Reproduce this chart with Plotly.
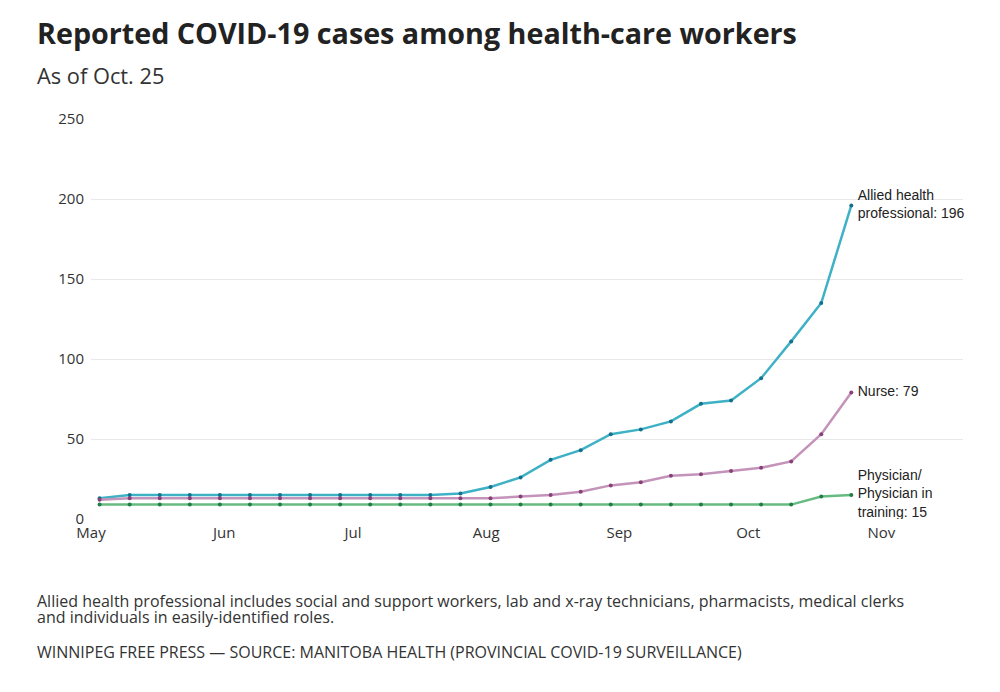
import plotly.graph_objects as go
import pandas as pd

dates = pd.date_range("2020-05-03", "2020-10-25", freq="7D")
allied = [13, 15, 15, 15, 15, 15, 15, 15, 15, 15, 15, 15, 16, 20, 26, 37, 43, 53, 56, 61, 72, 74, 88, 111, 135, 196]
nurse = [12, 13, 13, 13, 13, 13, 13, 13, 13, 13, 13, 13, 13, 13, 14, 15, 17, 21, 23, 27, 28, 30, 32, 36, 53, 79]
physician = [9, 9, 9, 9, 9, 9, 9, 9, 9, 9, 9, 9, 9, 9, 9, 9, 9, 9, 9, 9, 9, 9, 9, 9, 14, 15]
month_ticks = ["2020-05-01", "2020-06-01", "2020-07-01", "2020-08-01", "2020-09-01", "2020-10-01", "2020-11-01"]
month_labels = ["May", "Jun", "Jul", "Aug", "Sep", "Oct", "Nov"]

series = [
    ("Allied health<br>professional: 196", allied, "#3fb1c5", "#15708e", False),
    ("Nurse: 79", nurse, "#c393ba", "#884078", False),
    ("Physician/<br>Physician in<br>training: 15", physician, "#66bb80", "#1f8047", True),
]

label_x = dates[-1] + pd.Timedelta(hours=36)

fig = go.Figure()
for label, vals, lc, mc, clip in series:
    fig.add_trace(go.Scatter(
        x=dates, y=vals, mode="lines+markers",
        line=dict(color=lc, width=2.5),
        marker=dict(color=mc, size=4),
        hoverinfo="skip", showlegend=False,
    ))
    fig.add_trace(go.Scatter(
        x=[label_x], y=[vals[-1]], mode="text", text=[label],
        textposition="middle right", cliponaxis=clip,
        textfont=dict(family="Liberation Sans, Arial", size=14, color="#222"),
        hoverinfo="skip", showlegend=False,
    ))

fig.update_layout(
    width=992, height=684,
    margin=dict(l=83, r=37, t=111, b=173),
    paper_bgcolor="white", plot_bgcolor="white",
    font=dict(family="Open Sans", color="#333"),
    xaxis=dict(
        range=["2020-05-01", "2020-11-20"], type="date",
        tickvals=month_ticks, ticktext=month_labels,
        showgrid=False, zeroline=False, showline=False, ticks="",
        tickfont=dict(family="Open Sans", size=15, color="#333"),
        ticklabelstandoff=3,
    ),
    yaxis=dict(
        range=[0, 250], tickvals=[0, 50, 100, 150, 200, 250],
        showgrid=True, gridcolor="#e8e8e8", gridwidth=1, zeroline=False,
        tickfont=dict(family="Open Sans", size=15, color="#333"),
        ticklabelstandoff=6,
    ),
    annotations=[
        dict(text="<b>Reported COVID-19 cases among health-care workers</b>",
             xref="paper", yref="paper", x=-0.064, y=1.0, xanchor="left", yanchor="top",
             yshift=108, showarrow=False,
             font=dict(family="Open Sans", size=28.7, color="#222")),
        dict(text="As of Oct. 25", xref="paper", yref="paper", x=-0.064, y=1.0,
             xanchor="left", yanchor="top", yshift=60, showarrow=False,
             font=dict(family="Open Sans", size=21.8, color="#333")),
        dict(text="Allied health professional includes social and support workers, lab and x-ray technicians, pharmacists, medical clerks",
             xref="paper", yref="paper", x=-0.064, y=0, xanchor="left", yanchor="middle",
             yshift=-82, showarrow=False, align="left",
             font=dict(family="Open Sans", size=16, color="#333")),
        dict(text="and individuals in easily-identified roles.",
             xref="paper", yref="paper", x=-0.064, y=0, xanchor="left", yanchor="middle",
             yshift=-98, showarrow=False, align="left",
             font=dict(family="Open Sans", size=16, color="#333")),
        dict(text="WINNIPEG FREE PRESS — SOURCE: MANITOBA HEALTH (PROVINCIAL COVID-19 SURVEILLANCE)",
             xref="paper", yref="paper", x=-0.064, y=0, xanchor="left", yanchor="middle",
             yshift=-133, showarrow=False, align="left",
             font=dict(family="Open Sans", size=16, color="#333")),
    ],
)

fig.write_html("out.html")
